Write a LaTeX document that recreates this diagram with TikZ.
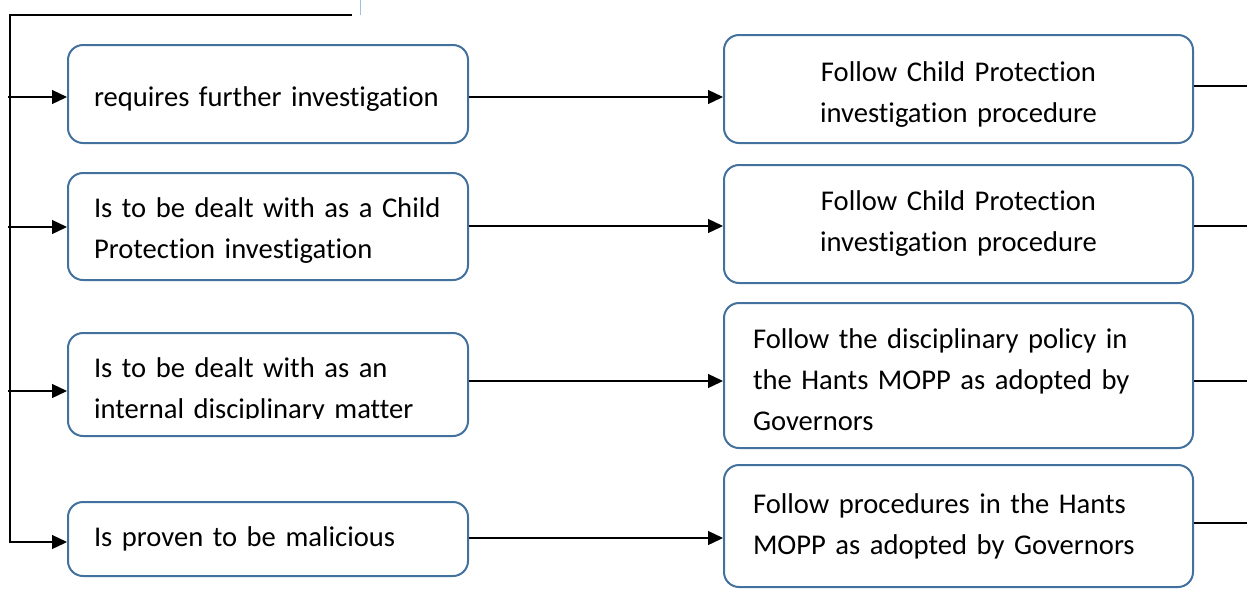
\documentclass[tikz,border=0pt]{standalone}
\usepackage{fontspec}
\setmainfont[Ligatures=NoCommon, WordSpace=0.8]{Carlito}
\usetikzlibrary{arrows.meta}
\definecolor{boxblue}{RGB}{65,113,156}
\definecolor{tickblue}{RGB}{155,194,230}

\begin{document}
\begin{tikzpicture}[x=1pt,y=-1pt,
    box/.style={draw=boxblue, line width=2pt, rounded corners=15pt, inner sep=0pt,
        font=\fontsize{28.6}{41}\selectfont},
    leftbox/.style={box, minimum width=400pt, text width=348pt, align=left},
    rightbox/.style={box, minimum width=469pt, text width=411pt},
    tshift/.style={execute at begin node={\rule{0pt}{#1}}},
    link/.style={line width=1.3pt},
    arr/.style={link, -{Triangle[length=15pt,width=14pt]}}]
    \useasboundingbox (0,0) rectangle (1247,598);

    \coordinate (feedtop) at (352,15);
    \coordinate (feedcorner) at (10,15);
    \coordinate (ticktop) at (360,0);
    \coordinate (tickbot) at (360,15);

    % rows of the connectors
    \coordinate (f1) at (8,97);
    \coordinate (f2) at (8,227);
    \coordinate (f3) at (8,391);
    \coordinate (f4) at (10,542);
    \coordinate (m1) at (0,97);
    \coordinate (m2) at (0,226);
    \coordinate (m3) at (0,381);
    \coordinate (m4) at (0,538);
    \coordinate (o1) at (1247,86);
    \coordinate (o2) at (1247,226);
    \coordinate (o3) at (1247,381);
    \coordinate (o4) at (1247,523);

    \node[leftbox, tshift=30pt, minimum height=98pt] (L1) at (268,94) {requires further investigation};
    \node[leftbox, tshift=28pt, minimum height=107pt] (L2) at (268,226.5) {Is to be dealt with as a Child\\Protection investigation};
    \node[leftbox, minimum height=103pt] (L3) at (268,384.5) {};
    \begin{scope}
        \clip (0,0) rectangle (1247,418);
        \node[leftbox, draw=none, minimum height=103pt] (L3text) at (268,390) {Is to be dealt with as an\\internal disciplinary matter};
    \end{scope}
    \node[leftbox, minimum height=74pt] (L4) at (268,539) {Is proven to be malicious};

    \node[rightbox, align=center, tshift=30pt, minimum height=108pt] (R1) at (958.5,89) {Follow Child Protection\\investigation procedure};
    \node[rightbox, align=center, minimum height=118pt] (R2) at (958.5,224) {Follow Child Protection\\investigation procedure};
    \node[rightbox, align=left, tshift=28pt, minimum height=145pt] (R3) at (958.5,375.5) {Follow the disciplinary policy in\\the Hants MOPP as adopted by\\Governors};
    \node[rightbox, align=left, minimum height=122pt] (R4) at (958.5,526) {Follow procedures in the Hants\\MOPP as adopted by Governors};

    \draw[tickblue, line width=1pt] (ticktop) -- (tickbot);
    \draw[arr] (feedtop) -- (feedcorner) |- (L4.west |- f4);

    \foreach \i in {1,2,3} {
        \draw[arr] (f\i) -- (L\i.west |- f\i);
    }
    \foreach \i in {1,2,3,4} {
        \draw[arr] (L\i.east |- m\i) -- (R\i.west |- m\i);
        \draw[link] (R\i.east |- o\i) -- (o\i);
    }

\end{tikzpicture}
\end{document}
